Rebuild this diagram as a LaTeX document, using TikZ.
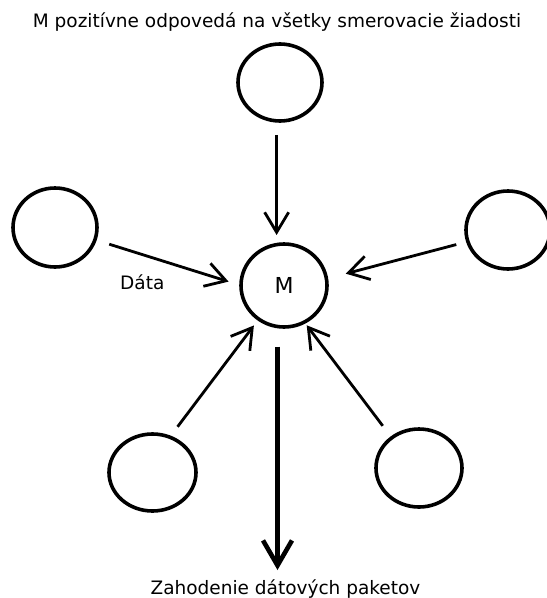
\documentclass[tikz,border=0pt]{standalone}
\usepackage{fontspec}
\setmainfont{DejaVu Sans}
\usetikzlibrary{arrows.meta,shapes.geometric}
\begin{document}
\begin{tikzpicture}[x=1pt,y=-1pt,
  peer/.style={draw, line width=3.6pt, ellipse, inner sep=0pt, outer sep=0pt},
  lbl/.style={inner sep=0pt, font=\fontsize{18.5}{22}\selectfont},
  arr/.style={line width=2.8pt, -{Straight Barb[length=20pt,width=24pt]}},
  bigarr/.style={line width=4.6pt, -{Straight Barb[length=25pt,width=29pt]}}]
\useasboundingbox (0,0) rectangle (547,598);
% nodes
\node[peer, minimum width=84pt, minimum height=77pt] (T) at (280,82.5) {};
\node[peer, minimum width=84pt, minimum height=79pt] (L) at (55,227.5) {};
\node[peer, minimum width=84pt, minimum height=78pt] (R) at (508,230) {};
\node[peer, minimum width=86pt, minimum height=83pt, font=\fontsize{22}{25}\selectfont] (M) at (284,285.5) {M};
\node[peer, minimum width=87pt, minimum height=77pt] (BL) at (152.5,472.5) {};
\node[peer, minimum width=86pt, minimum height=78pt] (BR) at (419,468) {};
% labels
\node[lbl, anchor=base] (title) at (277,27) {M pozitívne odpovedá na všetky smerovacie žiadosti};
\node[lbl, anchor=base] (drop) at (285.5,594) {Zahodenie dátových paketov};
\node[lbl, anchor=base west] (data) at (120,289) {Dáta};
% connectors
\draw[arr, shorten <=14pt, shorten >=9pt] (T.-95) -- (T.-95 |- M.north);
\draw[arr, shorten <=15pt, shorten >=13pt] (L.-17) -- (M.180);
\draw[arr, shorten <=12pt, shorten >=20pt] (R.196) -- (M.9);
\draw[arr, shorten <=13pt, shorten >=8pt] (BL.64) -- (M.233);
\draw[arr, shorten <=15pt, shorten >=4pt] (BR.132) -- (M.-61);
\draw[bigarr, shorten <=20pt, shorten >=9pt] (M.-99) -- (M.-99 |- drop.north);
\end{tikzpicture}
\end{document}
